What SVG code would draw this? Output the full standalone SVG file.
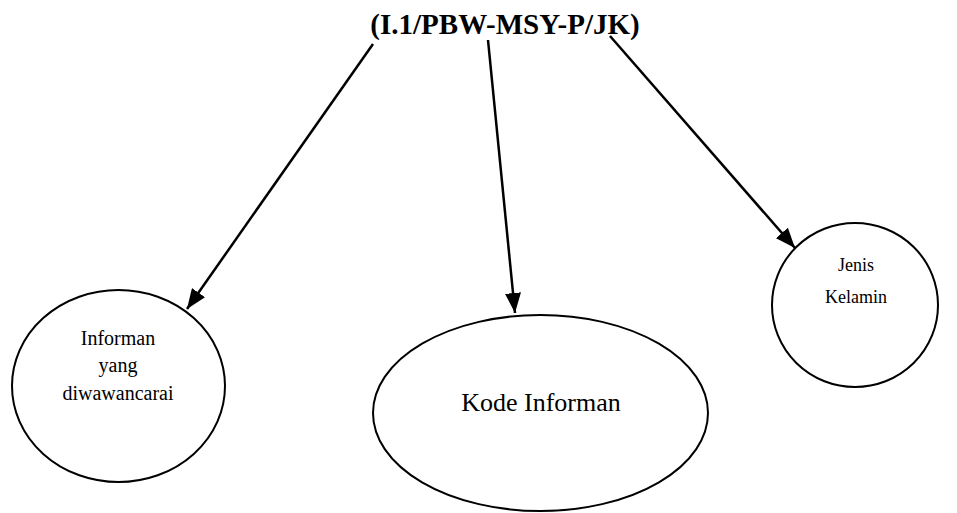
<svg xmlns="http://www.w3.org/2000/svg" width="957" height="513" viewBox="0 0 957 513">
<defs>
<marker id="ah" markerUnits="userSpaceOnUse" markerWidth="22" markerHeight="16" refX="20" refY="8" orient="auto">
<path d="M0,0 L20,8 L0,16 Z" fill="#000"/>
</marker>
</defs>
<style>
.n{fill:#fff;stroke:#000;stroke-width:2}
.t{fill:#000;text-anchor:middle}
.c{stroke:#000;stroke-width:2.5;fill:none;marker-end:url(#ah)}
</style>
<rect width="957" height="513" fill="#fff"/>
<g id="title" font-family="Liberation Serif, Times New Roman, serif">
<text class="t" x="505" y="34" font-size="29" font-weight="bold">(I.1/PBW-MSY-P/JK)</text>
</g>
<g id="n1" font-family="Liberation Serif, Times New Roman, serif">
<ellipse class="n" cx="118.5" cy="386" rx="106.5" ry="96"/>
<text class="t" x="118" y="345" font-size="20">Informan</text>
<text class="t" x="118" y="372" font-size="20">yang</text>
<text class="t" x="118" y="400" font-size="20">diwawancarai</text>
</g>
<g id="n2" font-family="Liberation Serif, Times New Roman, serif">
<ellipse class="n" cx="540.5" cy="413" rx="167.5" ry="98"/>
<text class="t" x="541" y="411" font-size="26">Kode Informan</text>
</g>
<g id="n3" font-family="Liberation Serif, Times New Roman, serif">
<ellipse class="n" cx="855" cy="305" rx="83" ry="82"/>
<text class="t" x="856" y="271" font-size="18">Jenis</text>
<text class="t" x="856" y="303" font-size="18">Kelamin</text>
</g>
<g id="connectors">
<line class="c" x1="373" y1="44" x2="187" y2="309"/>
<line class="c" x1="488" y1="40" x2="515" y2="313"/>
<line class="c" x1="610" y1="36" x2="795" y2="248"/>
</g>
</svg>
